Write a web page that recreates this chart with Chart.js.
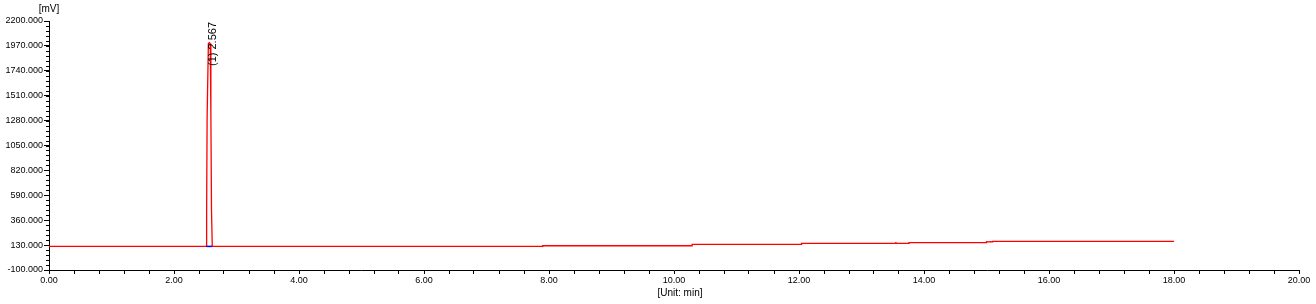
<!DOCTYPE html>
<html>
<head>
<meta charset="utf-8">
<script src="https://cdn.jsdelivr.net/npm/chart.js@4/dist/chart.umd.min.js"></script>
<style>
  body { margin: 0; background: #fff; }
  canvas { display: block; }
</style>
</head>
<body>
<canvas id="grafico" width="1316" height="304"></canvas>
<script>
// Tiempos de la señal (min)
const tiempos = [0, 2.515, 2.522, 2.530, 2.550, 2.567, 2.580, 2.590, 2.600, 2.612,
    7.90, 7.90, 10.29, 10.29, 12.04, 12.04, 13.54, 13.55, 13.57, 13.76, 13.76,
    15.00, 15.00, 15.04, 15.06, 15.10, 15.10, 18.00];
// Valores de la señal (mV)
const valores = [118, 118, 444, 1313, 1993, 2000, 1990, 1329, 453, 118,
    118, 124, 124, 137, 137, 146, 146, 152, 146, 146, 152,
    152, 162, 160, 162, 160, 165, 165];

// Linea base del pico (azul)
const baseTiempos = [2.518, 2.610];
const baseValores = [118, 118];

// Etiqueta del pico
const picoTiempo = 2.567;
const picoTexto = '(1) 2.567';

// Ejes
const xMin = 0, xMax = 20, xPaso = 0.4, xPasoEtiqueta = 2;
const yMin = -100, yMax = 2200, yPaso = 230, yPasoMenor = 46;
const unidadY = '[mV]';
const unidadX = '[Unit: min]';

const fuente = '"Liberation Sans", Arial, sans-serif';

// Convierte dos arreglos en puntos {x, y}
function armarPuntos(xs, ys) {
    return xs.map((x, i) => ({ x: x, y: ys[i] }));
}

// Plugin para ticks menores del eje Y, textos de unidades y etiqueta del pico
const extras = {
    id: 'extras',
    afterDraw(chart) {
        const ctx = chart.ctx;
        const x = chart.scales.x;
        const y = chart.scales.y;
        ctx.save();
        ctx.strokeStyle = '#000';
        ctx.lineWidth = 1;
        // Ticks menores
        for (let v = yMin; v <= yMax + 0.001; v += yPasoMenor) {
            const py = Math.round(y.getPixelForValue(v)) + 0.5;
            ctx.beginPath();
            ctx.moveTo(y.right - 3, py);
            ctx.lineTo(y.right, py);
            ctx.stroke();
        }
        ctx.fillStyle = '#000';
        ctx.font = '10px ' + fuente;
        ctx.textAlign = 'center';
        ctx.textBaseline = 'middle';
        ctx.fillText(unidadY, y.right, chart.chartArea.top - 12);
        ctx.fillText(unidadX, (x.left + x.right) / 2 + 6, 293);

        // Etiqueta rotada del pico
        const px = x.getPixelForValue(picoTiempo);
        ctx.translate(px + 3.5, 66);
        ctx.rotate(-Math.PI / 2);
        ctx.font = '11px ' + fuente;
        ctx.textAlign = 'left';
        ctx.fillText(picoTexto, 0, 0);
        ctx.restore();
    }
};

function generarGrafico() {
    const ctx = document.getElementById('grafico').getContext('2d');

    const grafico = new Chart(ctx, {
        type: 'scatter',
        data: {
            datasets: [{
                data: armarPuntos(baseTiempos, baseValores),
                showLine: true,
                borderColor: '#0000ff',
                borderWidth: 1.5,
                pointRadius: 0,
                order: 0
            }, {
                data: armarPuntos(tiempos, valores),
                showLine: true,
                borderColor: '#ff0000',
                borderWidth: 1.3,
                pointRadius: 0,
                order: 1
            }]
        },
        options: {
            responsive: false,
            animation: false,
            layout: { padding: { top: 21, right: 17, left: 0, bottom: 0 } },
            plugins: {
                legend: { display: false },
                tooltip: { enabled: false }
            },
            scales: {
                x: {
                    type: 'linear',
                    min: xMin,
                    max: xMax,
                    afterFit: (s) => { s.height = 34; },
                    border: { color: '#000' },
                    grid: { drawOnChartArea: false, tickLength: 4, color: '#000' },
                    ticks: {
                        stepSize: xPaso,
                        autoSkip: false,
                        maxRotation: 0,
                        padding: 1,
                        color: '#000',
                        font: { size: 9, family: fuente },
                        callback: (v) => {
                            const r = v / xPasoEtiqueta;
                            return Math.abs(r - Math.round(r)) < 1e-6 ? Number(v).toFixed(2) : '';
                        }
                    }
                },
                y: {
                    min: yMin,
                    max: yMax,
                    afterFit: (s) => { s.width = 49; },
                    border: { color: '#000' },
                    grid: { drawOnChartArea: false, tickLength: 5, color: '#000' },
                    ticks: {
                        stepSize: yPaso,
                        padding: 1,
                        color: '#000',
                        font: { size: 9, family: fuente },
                        callback: (v) => Number(v).toFixed(3)
                    }
                }
            }
        },
        plugins: [extras]
    });

    return grafico;
}

generarGrafico();
</script>
</body>
</html>
